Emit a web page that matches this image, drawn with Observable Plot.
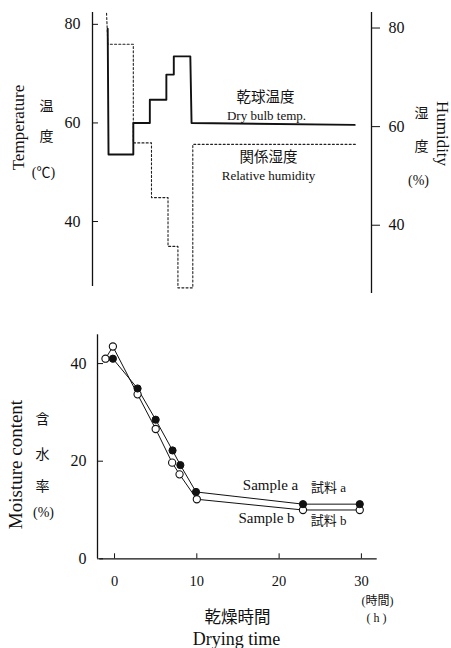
<!DOCTYPE html>
<html><head><meta charset="utf-8">
<script src="https://cdn.jsdelivr.net/npm/d3@7"></script>
<script src="https://cdn.jsdelivr.net/npm/@observablehq/plot@0.6"></script>
<style>
body{margin:0;background:#fff;}
#chart{width:451px;height:648px;}
#chart svg{display:block;}
</style></head><body><div id="chart"></div>
<script>
// ---- Top panel: drying schedule ----
const tempTime  = [-0.1, 0, 3.0, 3.0, 5.0, 5.0, 7.0, 7.0, 7.9, 7.9, 9.9, 10.05, 29.8];
const tempValue = [79.1, 53.6, 53.6, 60, 60, 64.7, 64.7, 69.8, 69.8, 73.5, 73.5, 60, 59.6];
const humTime   = [-0.24, -0.08, 3.0, 3.0, 5.2, 5.2, 7.2, 7.2, 8.4, 8.4, 10.2, 10.2, 29.9];
const humValue  = [83, 76.7, 76.7, 56.7, 56.7, 45.6, 45.6, 35.7, 35.7, 27.3, 27.3, 56.4, 56.4];
const tempTicks = [40, 60, 80];
const humTicks  = [40, 60, 80];

// ---- Bottom panel: moisture content ----
const sampleATime  = [-0.2, 2.8, 5.0, 7.05, 8.0, 9.9, 22.9, 29.8];
const sampleAValue = [41.0, 34.9, 28.5, 22.2, 19.2, 13.7, 11.2, 11.2];
const sampleBTime  = [-1.1, -0.2, 2.8, 5.0, 7.0, 7.9, 10.0, 22.9, 29.8];
const sampleBValue = [41.0, 43.5, 33.7, 26.6, 19.7, 17.3, 12.2, 10.0, 10.0];
const timeTicks = [0, 10, 20, 30];
const moistureTicks = [0, 20, 40];

const FONT = "'Liberation Serif', 'Noto Sans CJK JP', serif";
const HUM_SHIFT = 0.75; // humidity axis sits slightly lower than temperature axis

const temp = tempTime.map((t, i) => ({t, v: tempValue[i]}));
const hum = humTime.map((t, i) => ({t, v: humValue[i] - HUM_SHIFT}));
const sa = sampleATime.map((t, i) => ({t, v: sampleAValue[i]}));
const sb = sampleBTime.map((t, i) => ({t, v: sampleBValue[i]}));

function labeler(ML, MT) {
  return (text, px, py, o = {}) => Plot.text([text], {
    text: d => d, frameAnchor: "top-left", textAnchor: "middle", lineAnchor: "middle",
    dx: px - ML, dy: py - MT,
    fill: "#111", fontFamily: FONT, ...o
  });
}

// Top plot
{
  const ML = 92, MR = 80, MT = 12, MB = 7;
  const L = labeler(ML, MT);
  const xd = [-1.94, 31.83];
  const top = Plot.plot({
    width: 451, height: 300,
    marginLeft: ML, marginRight: MR, marginTop: MT, marginBottom: MB,
    style: {fontFamily: FONT, fontSize: "16px", background: "white", color: "#111"},
    x: {domain: xd, axis: null},
    y: {domain: [25.4, 82.4], axis: null},
    marks: [
      Plot.ruleX([xd[0]], {y1: 26.8, y2: 82.4, stroke: "#111", strokeWidth: 1.3}),
      Plot.ruleX([xd[1]], {y1: 25.4, y2: 82.4, stroke: "#111", strokeWidth: 1.3}),
      Plot.axisY({anchor: "left", ticks: tempTicks, tickSize: -6, tickPadding: 18, fontSize: 16, stroke: "#111", label: null}),
      Plot.axisY(humTicks.map(h => h - HUM_SHIFT), {anchor: "right", tickSize: 8, tickPadding: 9, fontSize: 16,
        tickFormat: d => Math.round(d + HUM_SHIFT), stroke: "#111", label: null}),
      Plot.line(hum, {x: "t", y: "v", stroke: "#222", strokeWidth: 1.1, strokeDasharray: "2,2.2", curve: "linear", clip: false}),
      Plot.line(temp, {x: "t", y: "v", stroke: "#111", strokeWidth: 1.9, curve: "linear"}),
      L("Temperature", 18, 127, {rotate: -90, fontSize: 17}),
      L("温", 46, 106, {fontSize: 14}),
      L("度", 46, 136, {fontSize: 14}),
      L("(℃)", 43, 172, {fontSize: 14}),
      L("Humidity", 442, 133, {rotate: 90, fontSize: 17}),
      L("湿", 421, 113, {fontSize: 14}),
      L("度", 421, 146, {fontSize: 14}),
      L("(%)", 418, 180, {fontSize: 14}),
      L("乾球温度", 265, 97, {fontSize: 14.5}),
      L("Dry bulb temp.", 266, 115, {fontSize: 13}),
      L("関係湿度", 268, 157, {fontSize: 14.5}),
      L("Relative humidity", 268, 175, {fontSize: 13})
    ]
  });
  document.getElementById("chart").append(top);
}

// Bottom plot
{
  const ML = 97, MR = 74.3, MT = 34.3, MB = 89.7;
  const L = labeler(ML, MT);
  const xd = [-2.07, 31.92];
  const bottom = Plot.plot({
    width: 451, height: 348,
    marginLeft: ML, marginRight: MR, marginTop: MT, marginBottom: MB,
    style: {fontFamily: FONT, fontSize: "16px", background: "white", color: "#111"},
    x: {domain: xd, axis: null},
    y: {domain: [0, 45.9], axis: null},
    marks: [
      Plot.ruleX([xd[0]], {y1: 0, y2: 45.9, stroke: "#111", strokeWidth: 1.3}),
      Plot.ruleY([0], {x1: -1.8, x2: xd[1], stroke: "#111", strokeWidth: 1.3}),
      Plot.axisY({anchor: "left", ticks: moistureTicks, tickSize: -6, tickPadding: 17, fontSize: 16, stroke: "#111", label: null}),
      Plot.axisX({anchor: "bottom", ticks: timeTicks, tickSize: -5, tickPadding: 22, fontSize: 14.5, stroke: "#111", label: null}),
      Plot.line(sa, {x: "t", y: "v", stroke: "#111", strokeWidth: 1}),
      Plot.line(sb, {x: "t", y: "v", stroke: "#111", strokeWidth: 1}),
      Plot.dot(sb, {x: "t", y: "v", r: 3.6, fill: "white", stroke: "#111", strokeWidth: 1.1}),
      Plot.dot(sa, {x: "t", y: "v", r: 3.6, fill: "#111", stroke: "#111", strokeWidth: 1}),
      L("Moisture content", 15, 164, {rotate: -90, fontSize: 19}),
      L("含", 42, 119, {fontSize: 14}),
      L("水", 42, 154, {fontSize: 14}),
      L("率", 42, 186, {fontSize: 14}),
      L("(%)", 43, 212, {fontSize: 14}),
      L("Sample a", 270, 185, {fontSize: 15}),
      L("試料 a", 328, 187, {fontSize: 13}),
      L("Sample b", 266, 218, {fontSize: 15}),
      L("試料 b", 328, 220, {fontSize: 13}),
      L("(時間)", 377, 301, {fontSize: 12}),
      L("( h )", 376, 318, {fontSize: 12}),
      L("乾燥時間", 237, 317, {fontSize: 16.5}),
      L("Drying time", 236, 339, {fontSize: 18})
    ]
  });
  document.getElementById("chart").append(bottom);
}
</script>
</body></html>
